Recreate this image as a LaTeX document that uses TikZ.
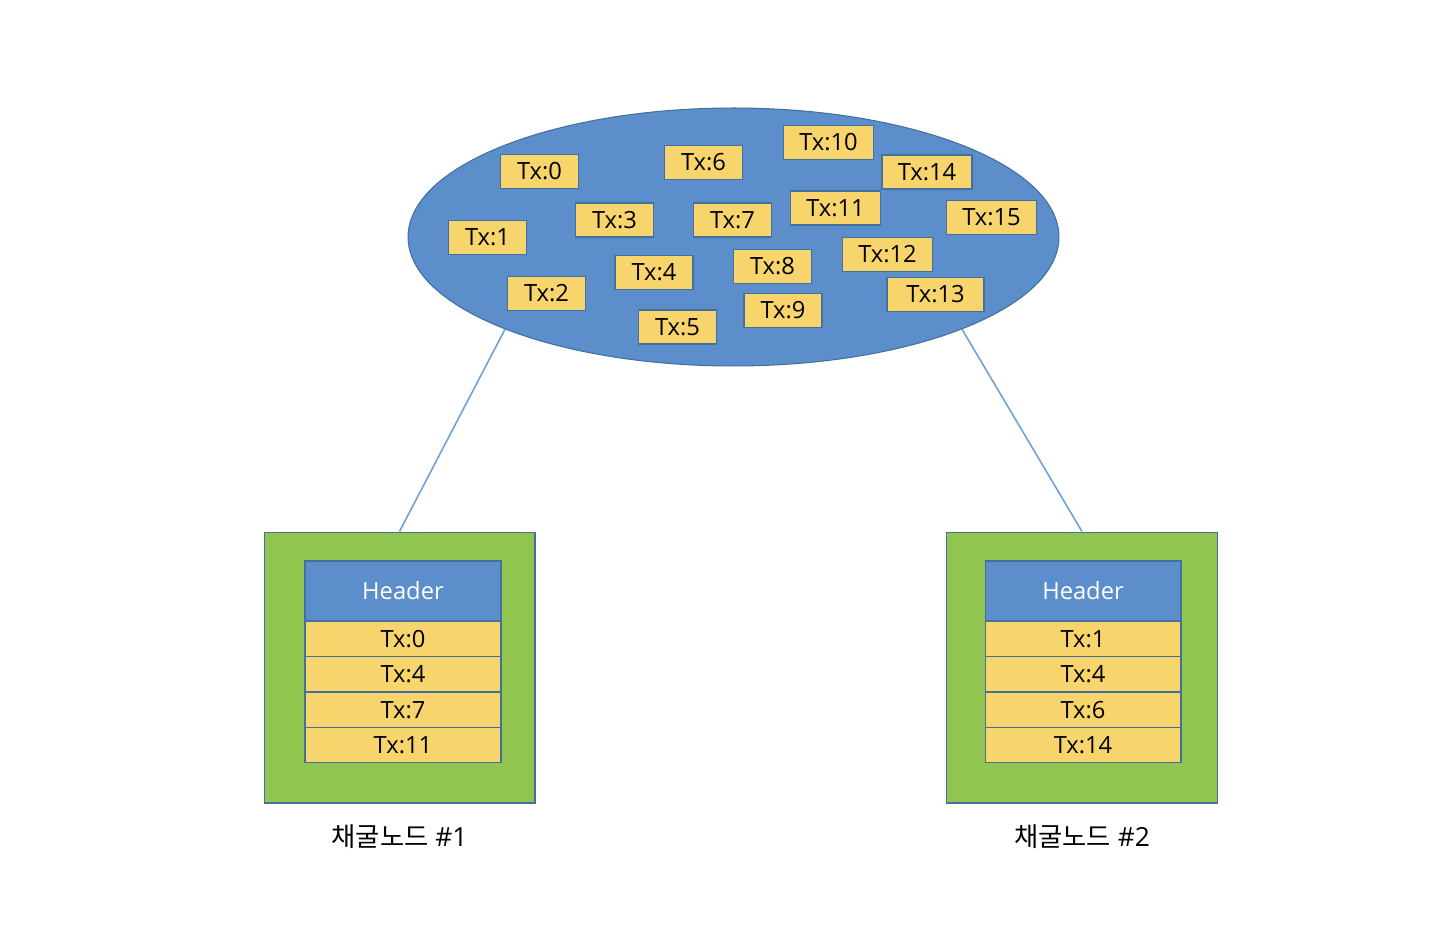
\documentclass[tikz,border=0pt]{standalone}
\usepackage{fontspec}
\setmainfont{Open Sans}
\newfontfamily\krfont{Noto Sans CJK KR}
\usetikzlibrary{shapes.geometric,positioning}
\definecolor{poolblue}{RGB}{91,142,202}
\definecolor{edgeblue}{RGB}{65,113,156}
\definecolor{txyellow}{RGB}{247,213,108}
\definecolor{minergreen}{RGB}{146,196,80}
\definecolor{linkblue}{RGB}{112,160,215}
\begin{document}
\begin{tikzpicture}
	[x=0.02cm,y=-0.02cm,
	 pool/.style={ellipse,draw=edgeblue,fill=poolblue,line width=0.6pt,minimum width=13.02cm,minimum height=5.16cm,inner sep=0pt},
	 tx/.style={rectangle,draw=edgeblue,fill=txyellow,line width=0.6pt,minimum width=1.56cm,minimum height=0.68cm,inner sep=0pt,font=\fontsize{13.5}{16}\selectfont},
	 txw/.style={tx,minimum width=1.8cm},
	 txrow/.style={tx,minimum width=3.92cm,minimum height=0.71cm,outer sep=0pt},
	 hdr/.style={txrow,fill=poolblue,text=white,minimum height=1.2cm},
	 miner/.style={rectangle,draw=edgeblue,fill=minergreen,line width=0.6pt,minimum size=5.42cm,inner sep=0pt},
	 minerlabel/.style={font=\fontsize{15}{17}\selectfont,inner sep=0pt},
	 link/.style={draw=linkblue,line width=0.9pt}]
    \useasboundingbox (0,0) rectangle (1454,932);
    % transaction pool
    \node[pool] (pool) at (733.5,237) {};
    \node[tx] (T0) at (539.5,171.5) {Tx:0};
    \node[tx] (T1) at (487.5,237.5) {Tx:1};
    \node[tx] (T2) at (546.5,293.5) {Tx:2};
    \node[tx] (T3) at (614.5,220) {Tx:3};
    \node[tx] (T4) at (654,272.5) {Tx:4};
    \node[tx] (T5) at (677.5,327) {Tx:5};
    \node[tx] (T6) at (703.5,162.5) {Tx:6};
    \node[tx] (T7) at (732.5,220) {Tx:7};
    \node[tx] (T8) at (772.5,266.5) {Tx:8};
    \node[tx] (T9) at (783,310.5) {Tx:9};
    \node[txw] (T10) at (828.5,142.5) {Tx:10};
    \node[txw] (T11) at (835.5,208) {Tx:11};
    \node[txw] (T12) at (887.5,254.5) {Tx:12};
    \node[txw,minimum width=1.94cm] (T13) at (935.5,294.5) {Tx:13};
    \node[txw] (T14) at (927,172) {Tx:14};
    \node[txw] (T15) at (991.5,217.5) {Tx:15};
    % mining node 1
    \node[miner] (miner1) at (399.5,667.5) {};
    \node[hdr] (H1) at (403,591) {Header};
    \node[txrow,below=0pt of H1] (A1) {Tx:0};
    \node[txrow,below=0pt of A1] (A2) {Tx:4};
    \node[txrow,below=0pt of A2] (A3) {Tx:7};
    \node[txrow,below=0pt of A3] (A4) {Tx:11};
    \node[minerlabel,below=0.42cm of miner1] (L1) {{\krfont 채굴노드} \#1};
    % mining node 2
    \node[miner] (miner2) at (1082,667.5) {};
    \node[hdr] (H2) at (1083,591) {Header};
    \node[txrow,below=0pt of H2] (B1) {Tx:1};
    \node[txrow,below=0pt of B1] (B2) {Tx:4};
    \node[txrow,below=0pt of B2] (B3) {Tx:6};
    \node[txrow,below=0pt of B3] (B4) {Tx:14};
    \node[minerlabel,below=0.42cm of miner2] (L2) {{\krfont 채굴노드} \#2};
    % links
    \draw [link] (pool.202) -- (miner1.north);
    \draw [link] (pool.338) -- (miner2.north);
\end{tikzpicture}
\end{document}
